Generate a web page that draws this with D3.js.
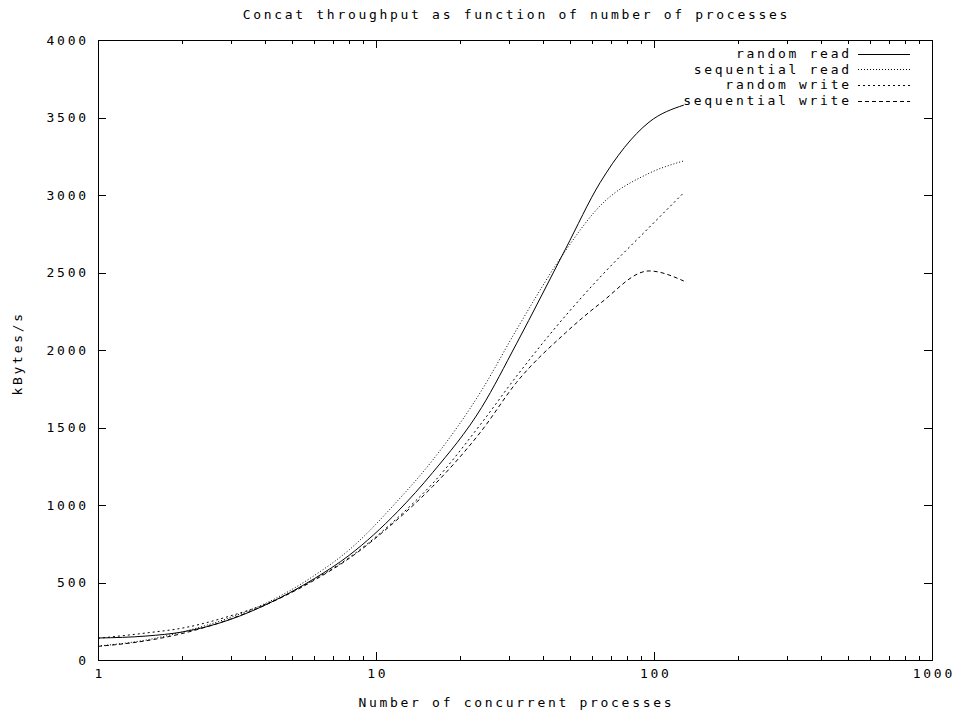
<!DOCTYPE html>
<html>
<head>
<meta charset="utf-8">
<script src="https://cdn.jsdelivr.net/npm/d3@7"></script>
<style>
  body { margin: 0; background: #fff; }
  svg text { font-family: "DejaVu Sans Mono", monospace; font-size: 13px; letter-spacing: 2.7px; fill: #000; }
</style>
</head>
<body>
<div id="chart"></div>
<script>
// values
const procs = [1, 1.5, 2, 3, 4, 6, 8, 12, 16, 24, 32, 48, 64, 96, 128];
const randomRead = [142, 155, 180, 262, 355, 525, 675, 960, 1210, 1630, 2040, 2650, 3080, 3470, 3580];
const sequentialRead = [90, 130, 180, 275, 365, 545, 710, 1030, 1290, 1740, 2130, 2640, 2930, 3140, 3220];
const randomWrite = [140, 175, 205, 285, 360, 520, 660, 920, 1140, 1530, 1830, 2220, 2470, 2790, 3015];
const sequentialWrite = [88, 125, 170, 265, 355, 515, 655, 910, 1120, 1480, 1790, 2110, 2300, 2510, 2445];

const seriesNames = ["random read", "sequential read", "random write", "sequential write"];
const dashes = [null, "1,2", "2,3", "4,3"];
const yTicks = [0, 500, 1000, 1500, 2000, 2500, 3000, 3500, 4000];
const xTicks = [1, 10, 100, 1000];
const xMinor = [2, 3, 4, 5, 6, 7, 8, 9, 20, 30, 40, 50, 60, 70, 80, 90, 200, 300, 400, 500, 600, 700, 800, 900];

const width = 960, height = 712;
const margin = { top: 40, right: 28, bottom: 52, left: 98 };
const LS = 2.7; // letter spacing, text-anchor end/middle compensation

const svg = d3.select("#chart").append("svg")
  .attr("width", width)
  .attr("height", height);

const x = d3.scaleLog().domain([1, 1000]).range([margin.left, width - margin.right]);
const y = d3.scaleLinear().domain([0, 4000]).range([height - margin.bottom, margin.top]);

const x0 = margin.left, x1 = width - margin.right;
const y0 = height - margin.bottom, y1 = margin.top;

function styleAxis(g) {
  g.attr("font-family", null).attr("font-size", null);
  g.select(".domain").remove();
  g.selectAll(".tick line").attr("stroke", "#000").attr("shape-rendering", "crispEdges");
}

// major / minor ticks bottom + top
svg.append("g")
  .attr("transform", `translate(0,${y0})`)
  .call(d3.axisBottom(x).tickValues(xTicks).tickSize(-8).tickPadding(9).tickFormat(d3.format("d")))
  .call(styleAxis)
  .selectAll("text").attr("dx", LS / 2);

svg.append("g")
  .attr("transform", `translate(0,${y0})`)
  .call(d3.axisBottom(x).tickValues(xMinor).tickSize(-4).tickFormat(""))
  .call(styleAxis);

svg.append("g")
  .attr("transform", `translate(0,${y1})`)
  .call(d3.axisTop(x).tickValues(xTicks).tickSize(-8).tickFormat(""))
  .call(styleAxis);

svg.append("g")
  .attr("transform", `translate(0,${y1})`)
  .call(d3.axisTop(x).tickValues(xMinor).tickSize(-4).tickFormat(""))
  .call(styleAxis);

// y ticks left + right
svg.append("g")
  .attr("transform", `translate(${x0},0)`)
  .call(d3.axisLeft(y).tickValues(yTicks).tickSize(-8).tickPadding(12).tickFormat(d3.format("d")))
  .call(styleAxis)
  .selectAll("text").attr("dx", LS);

svg.append("g")
  .attr("transform", `translate(${x1},0)`)
  .call(d3.axisRight(y).tickValues(yTicks).tickSize(-8).tickFormat(""))
  .call(styleAxis);

// frame
svg.append("rect")
  .attr("x", x0).attr("y", y1)
  .attr("width", x1 - x0).attr("height", y0 - y1)
  .attr("fill", "none").attr("stroke", "#000")
  .attr("shape-rendering", "crispEdges");

// lines
const series = [randomRead, sequentialRead, randomWrite, sequentialWrite];
const line = d3.line()
  .x((d, i) => x(procs[i]))
  .y(d => y(d))
  .curve(d3.curveMonotoneX);

series.forEach((vals, i) => {
  svg.append("path")
    .datum(vals)
    .attr("d", line)
    .attr("fill", "none")
    .attr("stroke", "#000")
    .attr("stroke-width", 1)
    .attr("stroke-dasharray", dashes[i]);
});

// legend
const legend = svg.append("g");
seriesNames.forEach((name, i) => {
  const ly = 53.5 + i * 15.7;
  legend.append("text")
    .attr("x", 849 + LS)
    .attr("y", ly)
    .attr("dy", "0.35em")
    .attr("text-anchor", "end")
    .text(name);
  legend.append("line")
    .attr("x1", 858).attr("x2", 910)
    .attr("y1", Math.round(ly) + 0.5).attr("y2", Math.round(ly) + 0.5)
    .attr("stroke", "#000")
    .attr("stroke-dasharray", dashes[i]);
});

// titles
svg.append("text")
  .attr("x", (x0 + x1) / 2 + LS / 2)
  .attr("y", 14)
  .attr("dy", "0.35em")
  .attr("text-anchor", "middle")
  .text("Concat throughput as function of number of processes");

svg.append("text")
  .attr("x", (x0 + x1) / 2 + LS / 2)
  .attr("y", 702)
  .attr("dy", "0.35em")
  .attr("text-anchor", "middle")
  .text("Number of concurrent processes");

svg.append("text")
  .attr("transform", `translate(17,${352 + LS / 2}) rotate(-90)`)
  .attr("dy", "0.35em")
  .attr("text-anchor", "middle")
  .text("kBytes/s");
</script>
</body>
</html>
